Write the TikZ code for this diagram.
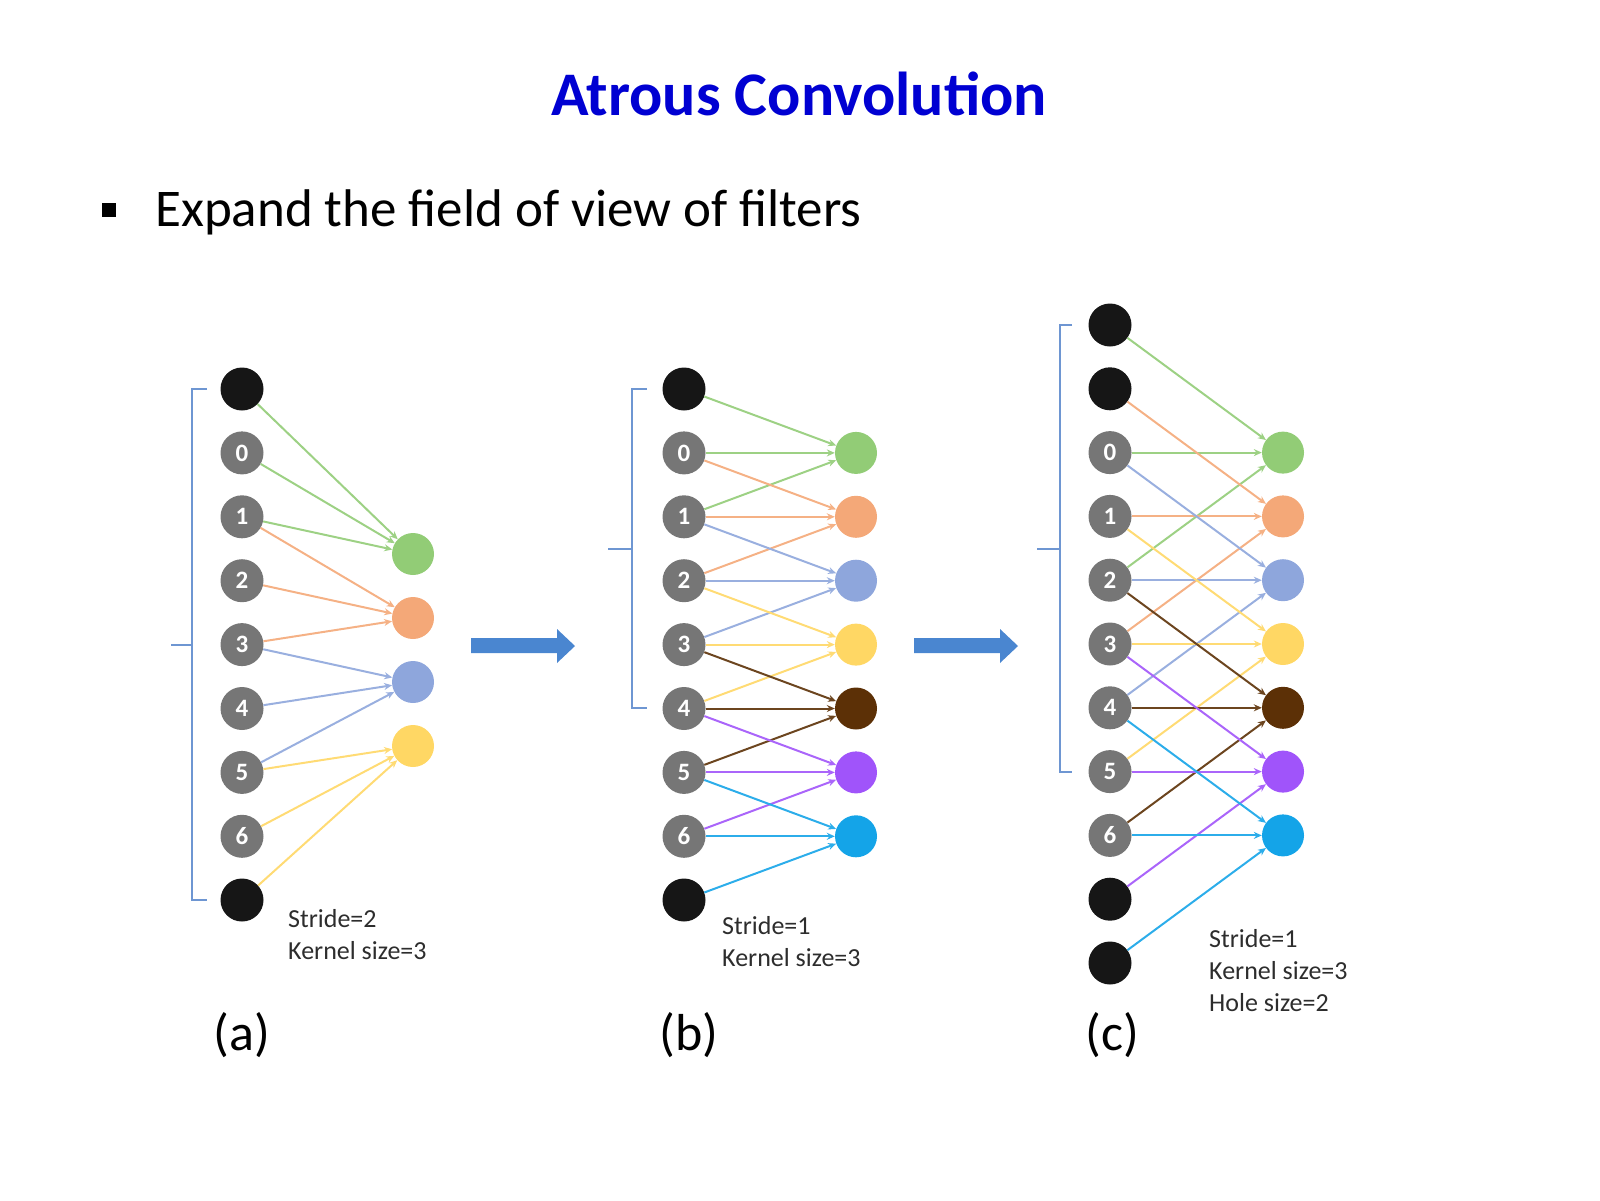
\documentclass[tikz,border=0pt]{standalone}
\usepackage{fontspec}
\setmainfont{Carlito}
\usetikzlibrary{arrows.meta}
\definecolor{cgreen}{RGB}{146,204,118}
\definecolor{corange}{RGB}{244,168,120}
\definecolor{cblue}{RGB}{142,166,220}
\definecolor{cyellow}{RGB}{255,215,100}
\definecolor{cbrown}{RGB}{92,48,6}
\definecolor{cpurple}{RGB}{160,84,250}
\definecolor{ccyan}{RGB}{20,164,232}
\definecolor{grayn}{RGB}{118,118,118}
\definecolor{blackn}{RGB}{22,22,22}
\definecolor{brackblue}{RGB}{110,150,210}
\definecolor{arrowblue}{RGB}{74,134,208}
\definecolor{titleblue}{RGB}{0,0,210}
\definecolor{lblgray}{RGB}{45,45,45}
\begin{document}
\begin{tikzpicture}[x=1pt,y=-1pt,
  inb/.style={circle, fill=blackn, minimum size=43pt, inner sep=0pt},
  ing/.style={circle, fill=grayn, minimum size=43pt, inner sep=0pt, text=white, font=\fontsize{25}{25}\selectfont\bfseries},
  outn/.style={circle, minimum size=42pt, inner sep=0pt},
  conn/.style={line width=2pt, -{Stealth[length=8pt,width=7pt]}},
  brack/.style={draw=brackblue, line width=2pt},
  lbl/.style={font=\fontsize{26}{26}\selectfont, text=lblgray, anchor=base west, inner sep=0pt},
  panel/.style={font=\fontsize{52}{52}\selectfont, anchor=base, inner sep=0pt},
  blockarrow/.style={fill=arrowblue}]
\useasboundingbox (0,0) rectangle (1600,1200);

% title and bullet
\node[font=\fontsize{62}{62}\selectfont\bfseries, text=titleblue, anchor=base, inner sep=0pt] (title) at (799,115) {Atrous Convolution};
\fill (102,203) rectangle (116,217);
\node[font=\fontsize{53}{53}\selectfont, anchor=base west, inner sep=0pt] (bullet) at (155,226) {Expand the field of view of filters};

% ---------------- panel (a)
\node[inb] (a0) at (242,389) {};
\foreach \i [evaluate=\i as \yy using 389+63.9*\i, evaluate=\i as \dg using int(\i-1)] in {1,...,7}
  \node[ing] (a\i) at (242,\yy) {\dg};
\node[inb] (a8) at (242,900) {};
\foreach \k/\c [evaluate=\k as \yy using 554+64*\k] in {0/cgreen,1/corange,2/cblue,3/cyellow}
  \node[outn, fill=\c] (ao\k) at (413,\yy) {};
\foreach \k/\c in {0/cgreen,1/corange,2/cblue,3/cyellow}{
  \foreach \j in {0,1,2}{
    \pgfmathtruncatemacro\s{2*\k+\j}
    \draw[conn, color=\c!90] (a\s) -- (ao\k);
  }
}
\draw[brack] (207,389) -- (192,389) -- (192,900) -- (207,900);
\draw[brack] (192,644.5) -- (171,644.5);
\node[lbl] (la1) at (288,927) {Stride=2};
\node[lbl] (la2) at (288,959) {Kernel size=3};
\node[panel] (pa) at (242,1050) {(a)};

% ---------------- panel (b)
\node[inb] (b0) at (684,389) {};
\foreach \i [evaluate=\i as \yy using 389+63.9*\i, evaluate=\i as \dg using int(\i-1)] in {1,...,7}
  \node[ing] (b\i) at (684,\yy) {\dg};
\node[inb] (b8) at (684,900) {};
\foreach \k/\c [evaluate=\k as \yy using 389+63.9*(\k+1)] in {0/cgreen,1/corange,2/cblue,3/cyellow,4/cbrown,5/cpurple,6/ccyan}
  \node[outn, fill=\c] (bo\k) at (856,\yy) {};
\foreach \k/\c in {0/cgreen,1/corange,2/cblue,3/cyellow,4/cbrown,5/cpurple,6/ccyan}{
  \foreach \j in {0,1,2}{
    \pgfmathtruncatemacro\s{\k+\j}
    \draw[conn, color=\c!90] (b\s) -- (bo\k);
  }
}
\draw[brack] (647,389) -- (632,389) -- (632,708) -- (647,708);
\draw[brack] (632,548.5) -- (608,548.5);
\node[lbl] (lb1) at (722,934) {Stride=1};
\node[lbl] (lb2) at (722,966) {Kernel size=3};
\node[panel] (pb) at (689,1050) {(b)};

% ---------------- panel (c)
\node[inb] (c0) at (1110,325) {};
\node[inb] (c1) at (1110,388.8) {};
\foreach \i [evaluate=\i as \yy using 325+63.8*\i, evaluate=\i as \dg using int(\i-2)] in {2,...,8}
  \node[ing] (c\i) at (1110,\yy) {\dg};
\node[inb] (c9) at (1110,899.2) {};
\node[inb] (c10) at (1110,963) {};
\foreach \k/\c [evaluate=\k as \yy using 325+63.8*(\k+2)] in {0/cgreen,1/corange,2/cblue,3/cyellow,4/cbrown,5/cpurple,6/ccyan}
  \node[outn, fill=\c] (co\k) at (1283,\yy) {};
\foreach \k/\c in {0/cgreen,1/corange,2/cblue,3/cyellow,4/cbrown,5/cpurple,6/ccyan}{
  \foreach \j in {0,1,2}{
    \pgfmathtruncatemacro\s{\k+2*\j}
    \draw[conn, color=\c!90] (c\s) -- (co\k);
  }
}
\draw[brack] (1072,325) -- (1060,325) -- (1060,772) -- (1072,772);
\draw[brack] (1060,548.5) -- (1037,548.5);
\node[lbl] (lc1) at (1209,947) {Stride=1};
\node[lbl] (lc2) at (1209,979) {Kernel size=3};
\node[lbl] (lc3) at (1209,1011) {Hole size=2};
\node[panel] (pc) at (1112,1050) {(c)};

% ---------------- block arrows
\fill[blockarrow] (471,638) -- (557,638) -- (557,629) -- (575,646) -- (557,663) -- (557,653) -- (471,653) -- cycle;
\fill[blockarrow] (914,638) -- (1000,638) -- (1000,629) -- (1018,646) -- (1000,663) -- (1000,653) -- (914,653) -- cycle;
\end{tikzpicture}
\end{document}
